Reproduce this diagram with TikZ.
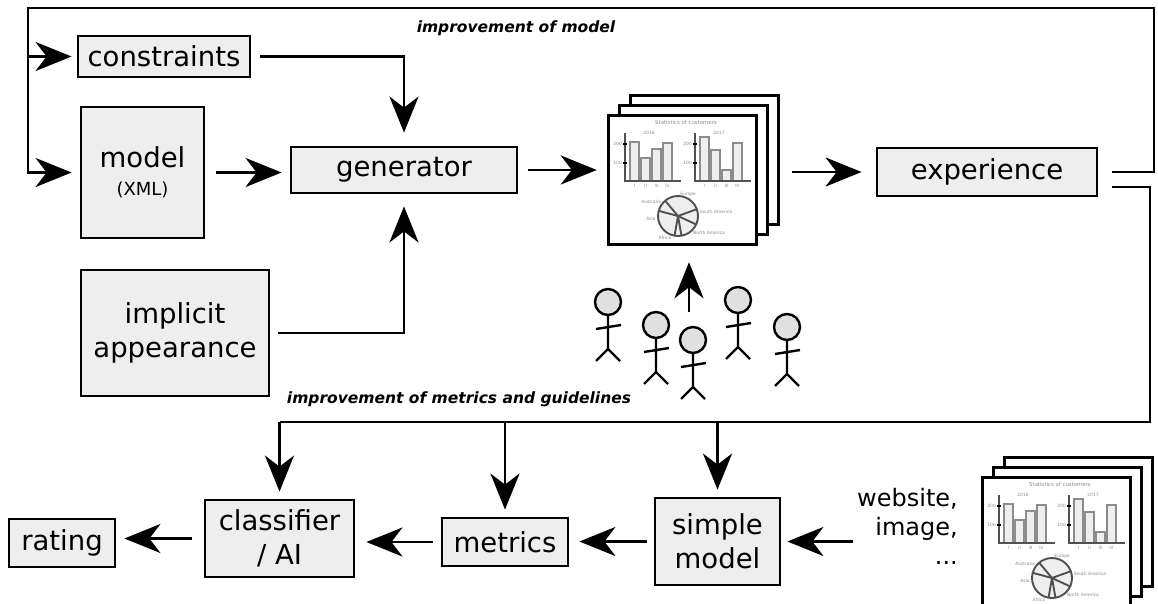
\documentclass[tikz,border=0pt]{standalone}
\usepackage{fontspec}
\setmainfont{DejaVu Sans}
\usepackage{tikz}
\usetikzlibrary{arrows.meta}
\definecolor{boxbg}{HTML}{EEEEEE}
\definecolor{headc}{HTML}{E0E0E0}
\definecolor{barc}{HTML}{8C8C8C}
\definecolor{axc}{HTML}{505050}
\tikzset{
  ar/.style={-{Stealth[length=36pt,width=29pt,inset=11pt]},line width=2.9pt},
  ln/.style={line width=2.9pt},
  box/.style={draw,line width=2.8pt,fill=boxbg,align=center,inner sep=0pt,
    font=\fontsize{27.5}{34}\selectfont},
  note/.style={font=\fontsize{15.5}{18}\selectfont\bfseries\itshape},
  sheet/.style={draw,line width=3pt,fill=white},
  tiny/.style={font=\fontsize{4.4}{5}\selectfont,text=barc,inner sep=0pt},
  bar/.style={draw=barc,fill=boxbg,line width=1.5pt},
  axis/.style={draw=axc,line width=1.9pt}
}
% three stacked sheets, the front one with the customer charts
\newcommand{\sheets}[3]{
  \begin{scope}[shift={(#1,#2)}]
    \draw[sheet] (22,-20) rectangle (170,109);
    \draw[sheet] (11,-10) rectangle (159,119);
    \draw[sheet] (0,0) rectangle (148,129);
    \node[inner sep=0pt,minimum width=148pt,minimum height=129pt] (#3) at (74,64.5) {};
    \node[tiny,font=\fontsize{5.4}{6}\selectfont] at (78,7) {Statistics of customers};
    \foreach \ox/\yr/\ha/\hb/\hc/\hd in {17/2016/27/43/34/28,87/2017/22/35/55/28}{
      \node[tiny] at (\ox+24,18) {\yr};
      \foreach \dx/\hh in {5/\ha,16/\hb,27/\hc,38/\hd}
        \draw[bar] (\ox+\dx,66) rectangle (\ox+\dx+9,\hh);
      \draw[axis] (\ox,18) -- (\ox,66) -- (\ox+56,66);
      \draw[line width=1.6pt] (\ox-2,29) -- (\ox+2,29) (\ox-2,48) -- (\ox+2,48);
      \node[tiny,anchor=east] at (\ox-3,29) {200};
      \node[tiny,anchor=east] at (\ox-3,48) {100};
      \foreach \dx/\rn in {9.5/I,20.5/II,31.5/III,42.5/IV}
        \node[tiny] at (\ox+\dx,71) {\rn};
    }
    % pie
    \draw[axis,fill=boxbg] (70,101) circle (20);
    \foreach \ang in {130,20,-25,-80,-100,165}
      \draw[axis] (70,101) -- ++({-\ang}:20);
    \node[tiny] at (80,79) {Europe};
    \node[tiny] at (43,87) {Australia};
    \node[tiny] at (43,104) {Asia};
    \node[tiny] at (57,123) {Africa};
    \node[tiny] at (108,97) {South America};
    \node[tiny] at (101,118) {North America};
  \end{scope}}
% stick figure, head centre at #1,#2
\newcommand{\stickman}[2]{
  \begin{scope}[shift={(#1,#2)},line width=2.4pt]
    \draw[fill=headc] (0,0) circle (13);
    \draw (0,13) -- (0,47) (-12,27) -- (13,23) (-12,59) -- (0,47) -- (12,59);
  \end{scope}}

\begin{document}
\begin{tikzpicture}[x=1pt,y=-1pt]
\useasboundingbox (0,0) rectangle (1158,603);

% upper row
\node[box,minimum width=172pt,minimum height=41pt] (constr) at (164,56.5) {constraints};
\node[box,minimum width=123pt,minimum height=131pt] (model) at (142.5,172.5)
  {model\\[-6pt]{\fontsize{18}{20}\selectfont (XML)}};
\node[box,minimum width=226pt,minimum height=46pt] (gen) at (404,170) {generator};
\node[box,minimum width=188pt,minimum height=126pt] (implicit) at (175,333) {implicit\\appearance};
\node[box,minimum width=220pt,minimum height=48pt] (exper) at (987,172) {experience};
\sheets{608}{115}{doc}

% observers
\foreach \px/\py in {608/302,656/325,693/340,738/300,787/327}
  \stickman{\px}{\py};
\coordinate (crowd) at (689,312);

% lower row
\node[box,minimum width=106pt,minimum height=48pt] (rating) at (62,543) {rating};
\node[box,minimum width=149pt,minimum height=77pt] (classif) at (279.5,538.5) {classifier\\/ AI};
\node[box,minimum width=126pt,minimum height=48pt] (metrics) at (505,542) {metrics};
\node[box,minimum width=125pt,minimum height=87pt] (simple) at (717.5,541.5) {simple\\model};
\node[align=right,anchor=east,inner sep=0pt,font=\fontsize{24}{29}\selectfont] (src) at (958,526)
  {website,\\image,\\...};
\sheets{982}{477}{web}

\node[note] (topnote) at (516,28) {improvement of model};
\node[note] (botnote) at (459,399) {improvement of metrics and guidelines};

% feedback loops
\coordinate (tl) at (28,8);
\coordinate (bl) at (279.5,422);
\draw[ar,shorten <=14pt,shorten >=8pt] (exper.east) -| (1154,8) -- (tl) |- (model.west);
\draw[ar,shorten >=5pt] (tl |- constr.west) -- (constr.west);
\draw[ln,shorten <=14pt] ([yshift=-15pt]exper.east) -| (1150,422) -- (bl);
\foreach \n in {classif,metrics,simple}
  \draw[ar,shorten >=7pt] (\n.north |- bl) -- (\n.north);

% main flow
\draw[ar,shorten <=9pt,shorten >=13pt] (constr.east) -| (gen.north);
\draw[ar,shorten <=8pt,shorten >=12pt] (implicit.east) -| (gen.south);
\draw[ar,shorten <=11pt,shorten >=8pt] (model.east) -- (model.east -| gen.west);
\draw[ar,shorten <=10pt,shorten >=11pt] (gen.east) -- (gen.east -| doc.west);
\draw[ar,shorten <=36pt,shorten >=14pt] (exper.west -| doc.east) -- (exper.west);
\draw[ar,shorten >=18pt] (crowd) -- (crowd |- doc.south);
\draw[ar,shorten <=4pt,shorten >=6pt] (src.west |- simple.east) -- (simple.east);
\draw[ar,shorten <=7pt,shorten >=10pt] (simple.west) -- (simple.west -| metrics.east);
\draw[ar,shorten <=8pt,shorten >=11pt] (metrics.west) -- (metrics.west -| classif.east);
\draw[ar,shorten <=12pt,shorten >=8pt] (classif.west) -- (classif.west -| rating.east);
\end{tikzpicture}
\end{document}
